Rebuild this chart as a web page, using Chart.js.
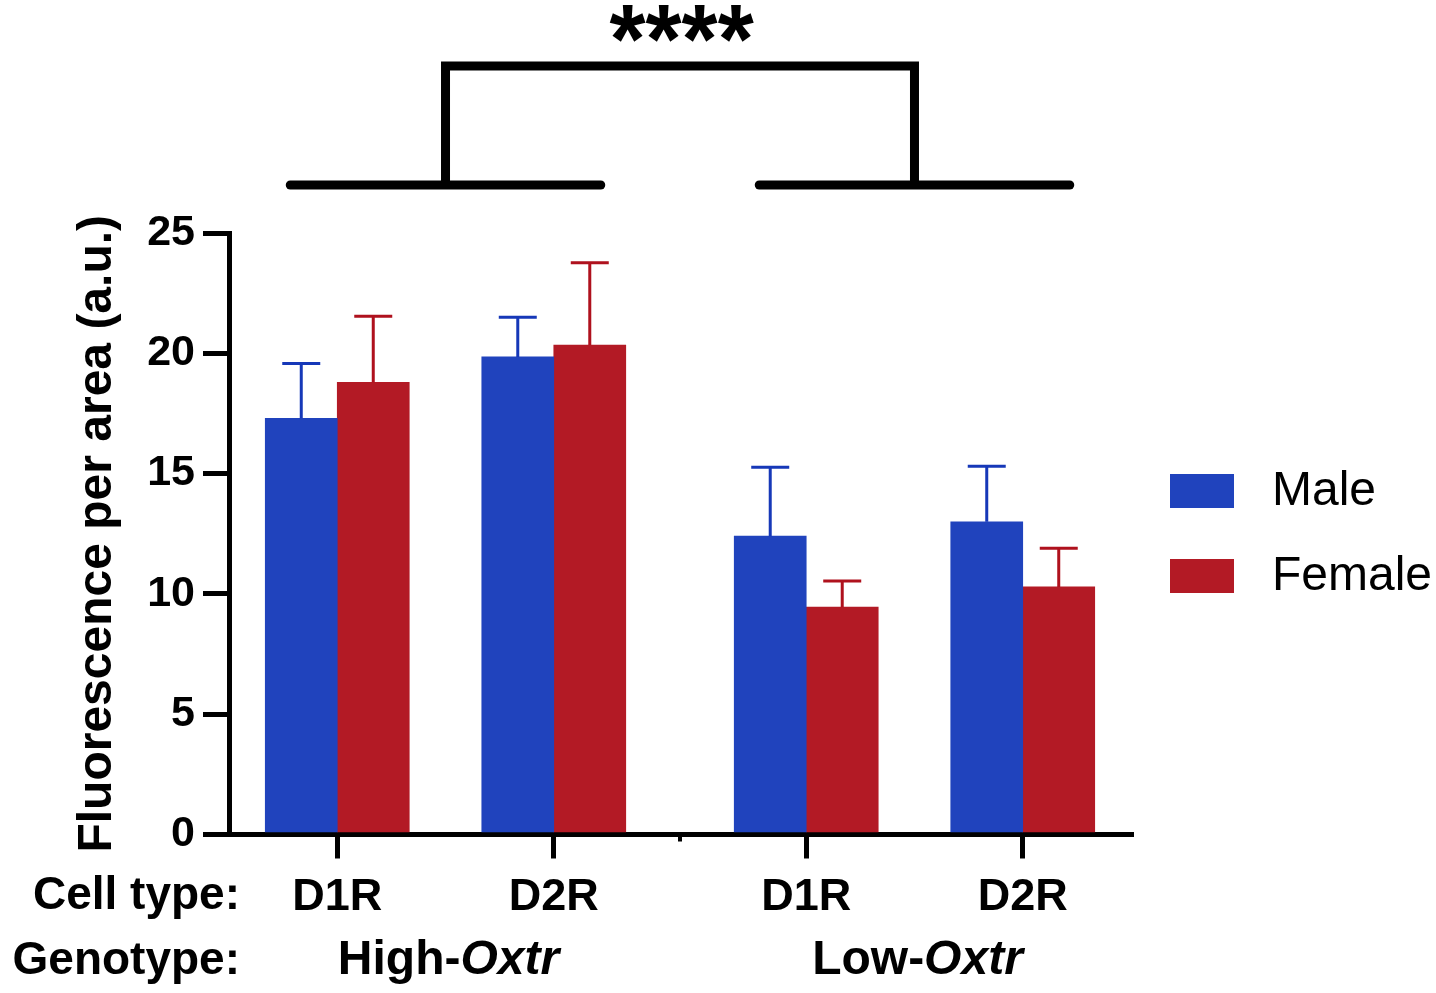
<!DOCTYPE html>
<html>
<head>
<meta charset="utf-8">
<script src="https://cdn.jsdelivr.net/npm/chart.js@4.4.1/dist/chart.umd.min.js"></script>
<style>
html,body{margin:0;padding:0;background:#fff;overflow:hidden}
#wrap{width:1436px;height:993px}
</style>
</head>
<body>
<div id="wrap"><canvas id="c" width="1436" height="993"></canvas></div>
<script>
// ---------- data ----------
const cellTypes   = ['D1R', 'D2R', 'D1R', 'D2R'];
const genotypeOf  = [0, 0, 1, 1];
const genotypes   = ['High-', 'Low-'];
const geneName    = 'Oxtr';
const seriesNames = ['Male', 'Female'];
const maleMean    = [17.30, 19.85, 12.40, 13.00];
const maleSD      = [2.28, 1.65, 2.86, 2.31];
const femaleMean  = [18.79, 20.34, 9.45, 10.29];
const femaleSD    = [2.75, 3.42, 1.09, 1.61];
const yTicks      = [0, 5, 10, 15, 20, 25];
const sigLabel    = '****';
const yTitle      = 'Fluorescence per area (a.u.)';
const rowTitles   = ['Cell type:', 'Genotype:'];

// ---------- layout helpers ----------
const GROUP_GAP = 0.166;
const catPos = cellTypes.map((_, i) => i + genotypeOf[i] * GROUP_GAP);
const FONT = '"Liberation Sans", Arial, Helvetica, sans-serif';
Chart.defaults.font.family = FONT;
const BLUE = '#2043BD', RED = '#B31A25';
const BLUE_ERR = '#1638B8', RED_ERR = '#AF111D';

const errorBars = {
  id: 'errorBars',
  afterDatasetsDraw(chart) {
    const ctx = chart.ctx, ys = chart.scales.y;
    chart.data.datasets.forEach((ds, di) => {
      const meta = chart.getDatasetMeta(di);
      meta.data.forEach((el, i) => {
        const top = ys.getPixelForValue(ds.data[i].y + ds.sd[i]);
        ctx.save();
        ctx.strokeStyle = ds.errColor;
        ctx.lineWidth = 3;
        ctx.beginPath();
        ctx.moveTo(el.x, el.y);
        ctx.lineTo(el.x, top);
        ctx.moveTo(el.x - 19, top);
        ctx.lineTo(el.x + 19, top);
        ctx.stroke();
        ctx.restore();
      });
    });
  }
};

const annotations = {
  id: 'annotations',
  afterDraw(chart) {
    const ctx = chart.ctx, xs = chart.scales.x, area = chart.chartArea;
    const px = catPos.map(v => xs.getPixelForValue(v));
    ctx.save();
    ctx.fillStyle = '#000';
    ctx.strokeStyle = '#000';

    // small gap mark between the genotype groups on the axis
    const gapX = xs.getPixelForValue((catPos[1] + catPos[2]) / 2);
    ctx.fillRect(gapX - 2, area.bottom, 4, 7);

    // row titles
    ctx.font = 'bold 46px ' + FONT;
    ctx.textAlign = 'right';
    ctx.textBaseline = 'middle';
    const row1 = area.bottom + 24 + 11 + 27;
    const row2 = row1 + 64.5;
    ctx.fillText(rowTitles[0], 240, row1);
    ctx.fillText(rowTitles[1], 240, row2);

    // genotype labels
    const groupCenters = genotypes.map((g, gi) => {
      const idx = genotypeOf.map((v, i) => v === gi ? i : -1).filter(i => i >= 0);
      return idx.reduce((s, i) => s + px[i], 0) / idx.length;
    });
    const gFont = 48;
    genotypes.forEach((g, gi) => {
      ctx.font = 'bold ' + gFont + 'px ' + FONT;
      const w1 = ctx.measureText(g).width;
      ctx.font = 'italic bold ' + gFont + 'px ' + FONT;
      const w2 = ctx.measureText(geneName).width;
      const x0 = groupCenters[gi] + 3 - (w1 + w2) / 2;
      ctx.textAlign = 'left';
      ctx.font = 'bold ' + gFont + 'px ' + FONT;
      ctx.fillText(g, x0, row2);
      ctx.font = 'italic bold ' + gFont + 'px ' + FONT;
      ctx.fillText(geneName, x0 + w1, row2);
    });

    // bracket
    const lowY = area.top - 48, topY = area.top - 167;
    ctx.lineCap = 'round';
    ctx.lineWidth = 9;
    genotypes.forEach((g, gi) => {
      const idx = genotypeOf.map((v, i) => v === gi ? i : -1).filter(i => i >= 0);
      ctx.beginPath();
      ctx.moveTo(px[idx[0]] - 47, lowY);
      ctx.lineTo(px[idx[idx.length - 1]] + 47, lowY);
      ctx.stroke();
    });
    ctx.lineCap = 'butt';
    ctx.lineJoin = 'miter';
    ctx.lineWidth = 9;
    ctx.beginPath();
    ctx.moveTo(groupCenters[0], lowY);
    ctx.lineTo(groupCenters[0], topY);
    ctx.lineTo(groupCenters[1], topY);
    ctx.lineTo(groupCenters[1], lowY);
    ctx.stroke();

    // significance stars, fitted to a box above the bracket
    ctx.font = 'bold 93px ' + FONT;
    ctx.textAlign = 'left';
    ctx.textBaseline = 'alphabetic';
    const m = ctx.measureText(sigLabel);
    const gw = m.actualBoundingBoxLeft + m.actualBoundingBoxRight;
    const gh = m.actualBoundingBoxAscent + m.actualBoundingBoxDescent;
    const boxW = 145, boxH = 37;
    const cx = (groupCenters[0] + groupCenters[1]) / 2 + 2;
    const boxTop = topY - 61;
    ctx.save();
    ctx.translate(cx - boxW / 2, boxTop);
    ctx.scale(boxW / gw, boxH / gh);
    ctx.fillText(sigLabel, m.actualBoundingBoxLeft, m.actualBoundingBoxAscent);
    ctx.restore();

    // legend
    const legX = 1170, legTextX = 1272, legY0 = 491, legStep = 85;
    chart.data.datasets.forEach((ds, i) => {
      const cy = legY0 + i * legStep;
      ctx.fillStyle = ds.backgroundColor;
      ctx.fillRect(legX, cy - 17, 64, 34);
      ctx.fillStyle = '#000';
      ctx.font = '48px ' + FONT;
      ctx.textAlign = 'left';
      ctx.textBaseline = 'middle';
      ctx.fillText(ds.label, legTextX, cy + 1);
    });
    ctx.restore();
  }
};

new Chart(document.getElementById('c'), {
  type: 'bar',
  data: {
    datasets: [
      { label: seriesNames[0], data: catPos.map((x, i) => ({ x, y: maleMean[i] })),
        sd: maleSD, backgroundColor: BLUE, errColor: BLUE_ERR, barThickness: 72 },
      { label: seriesNames[1], data: catPos.map((x, i) => ({ x, y: femaleMean[i] })),
        sd: femaleSD, backgroundColor: RED, errColor: RED_ERR, barThickness: 72 }
    ]
  },
  options: {
    responsive: false,
    animation: false,
    events: [],
    layout: { padding: { left: 0, right: 305, top: 233, bottom: 58.5 } },
    plugins: { legend: { display: false }, tooltip: { enabled: false } },
    scales: {
      x: {
        type: 'linear',
        z: 1,
        offset: false,
        min: catPos[0] - 0.5,
        max: catPos[catPos.length - 1] + 0.5,
        afterBuildTicks: s => { s.ticks = catPos.map(v => ({ value: v })); },
        afterFit: s => { s.height = 100; },
        grid: { offset: false, drawOnChartArea: false, drawTicks: true, tickLength: 24, color: '#000', lineWidth: 5 },
        border: { display: true, color: '#000', width: 5 },
        ticks: {
          color: '#000', font: { size: 45, weight: 'bold' }, padding: 12,
          autoSkip: false, maxRotation: 0,
          callback: (v, i) => cellTypes[i]
        }
      },
      y: {
        z: 1,
        min: yTicks[0],
        max: yTicks[yTicks.length - 1],
        afterBuildTicks: s => { s.ticks = yTicks.map(v => ({ value: v })); },
        afterFit: s => { s.width = 229; },
        grid: { drawOnChartArea: false, drawTicks: true, tickLength: 26, color: '#000', lineWidth: 5 },
        border: { display: true, color: '#000', width: 5 },
        ticks: { color: '#000', font: { size: 43, weight: 'bold' }, padding: 8 },
        title: {
          display: true, text: yTitle, color: '#000',
          font: { size: 48, weight: 'bold' }, padding: { top: 69, bottom: 0 }
        }
      }
    }
  },
  plugins: [errorBars, annotations]
});
</script>
</body>
</html>
